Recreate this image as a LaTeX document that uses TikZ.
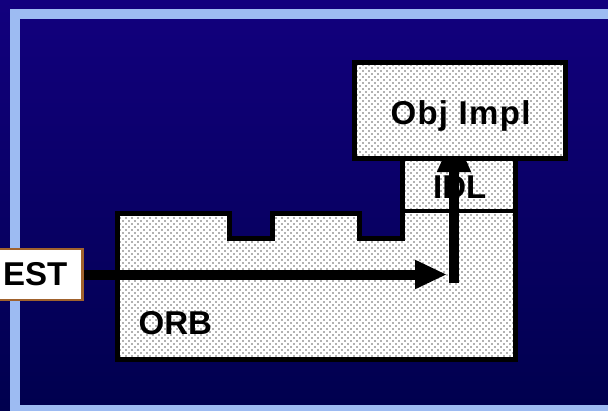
\documentclass[tikz,border=0pt]{standalone}
\usepackage{fontspec}
\setmainfont{Liberation Sans}
\usetikzlibrary{arrows.meta,patterns}
\definecolor{bgtop}{RGB}{18,0,126}
\definecolor{bgbot}{RGB}{0,0,78}
\definecolor{framecol}{RGB}{157,187,242}
\definecolor{estbrown}{RGB}{160,98,45}
\definecolor{dotgray}{RGB}{100,100,100}
\pgfdeclarepatternformonly{stagdots}{\pgfqpoint{-1pt}{-1pt}}{\pgfqpoint{4pt}{4pt}}{\pgfqpoint{6pt}{6pt}}{%
  \pgfpathcircle{\pgfqpoint{0pt}{0pt}}{.85pt}%
  \pgfpathcircle{\pgfqpoint{3pt}{3pt}}{.85pt}%
  \pgfusepath{fill}}
\begin{document}
\begin{tikzpicture}[x=1pt,y=-1pt,
  dotfill/.style={preaction={fill=white}, pattern=stagdots, pattern color=dotgray},
  outline/.style={draw=black, line width=5pt, line join=miter},
  lbl/.style={font=\fontsize{33}{36}\selectfont\bfseries, text=black, inner sep=0pt},
  flow/.style={line width=10pt, draw=black, line cap=butt},
  estbox/.style={draw=estbrown, line width=2.5pt, fill=white, inner xsep=15pt, inner ysep=0pt, minimum height=51pt, font=\fontsize{33}{36}\selectfont\bfseries}
]
\useasboundingbox (0,0) rectangle (608,410);
% background
\shade[top color=bgtop, bottom color=bgbot] (0,0) rectangle (608,410);
% frame
\draw[framecol, line width=10.5pt] (14.75,13.75) rectangle (720,410.25);

% ORB with IDL layer
\path[dotfill, outline] (117,213) -- (229,213) -- (229,238) -- (272,238) -- (272,213)
  -- (359,213) -- (359,238) -- (402,238) -- (402,158) -- (515,158) -- (515,359)
  -- (117,359) -- cycle;
\coordinate (divl) at (402,211);
\coordinate (divr) at (515,211);
\draw[line width=3.5pt] (divl) -- (divr);

\node[lbl, anchor=base west] (orbtxt) at (138.5,334) {ORB};
\node[lbl, anchor=base west] (idltxt) at (433,198) {IDL};

% EST box position
\coordinate (estanchor) at (83.5,274.5);
\coordinate (hend) at (447,274.5);
\draw[flow, -{Triangle[length=32pt,width=27pt]}] (estanchor) -- (hend);
\node[estbox, anchor=east] (est) at (estanchor) {EST};

\coordinate (vstart) at (454,283);
\coordinate (vtip) at (454,132);
\draw[flow, -{Triangle[length=40pt,width=31pt]}] (vstart) -- (vtip);

% Obj Impl box on top
\node[dotfill, outline, minimum width=211pt, minimum height=96pt, inner sep=0pt] (obj) at (459.5,110) {};
\node[lbl, anchor=base] (objtxt) at (460.5,124.5) {\addfontfeature{LetterSpace=4}Obj Impl};
\end{tikzpicture}
\end{document}
